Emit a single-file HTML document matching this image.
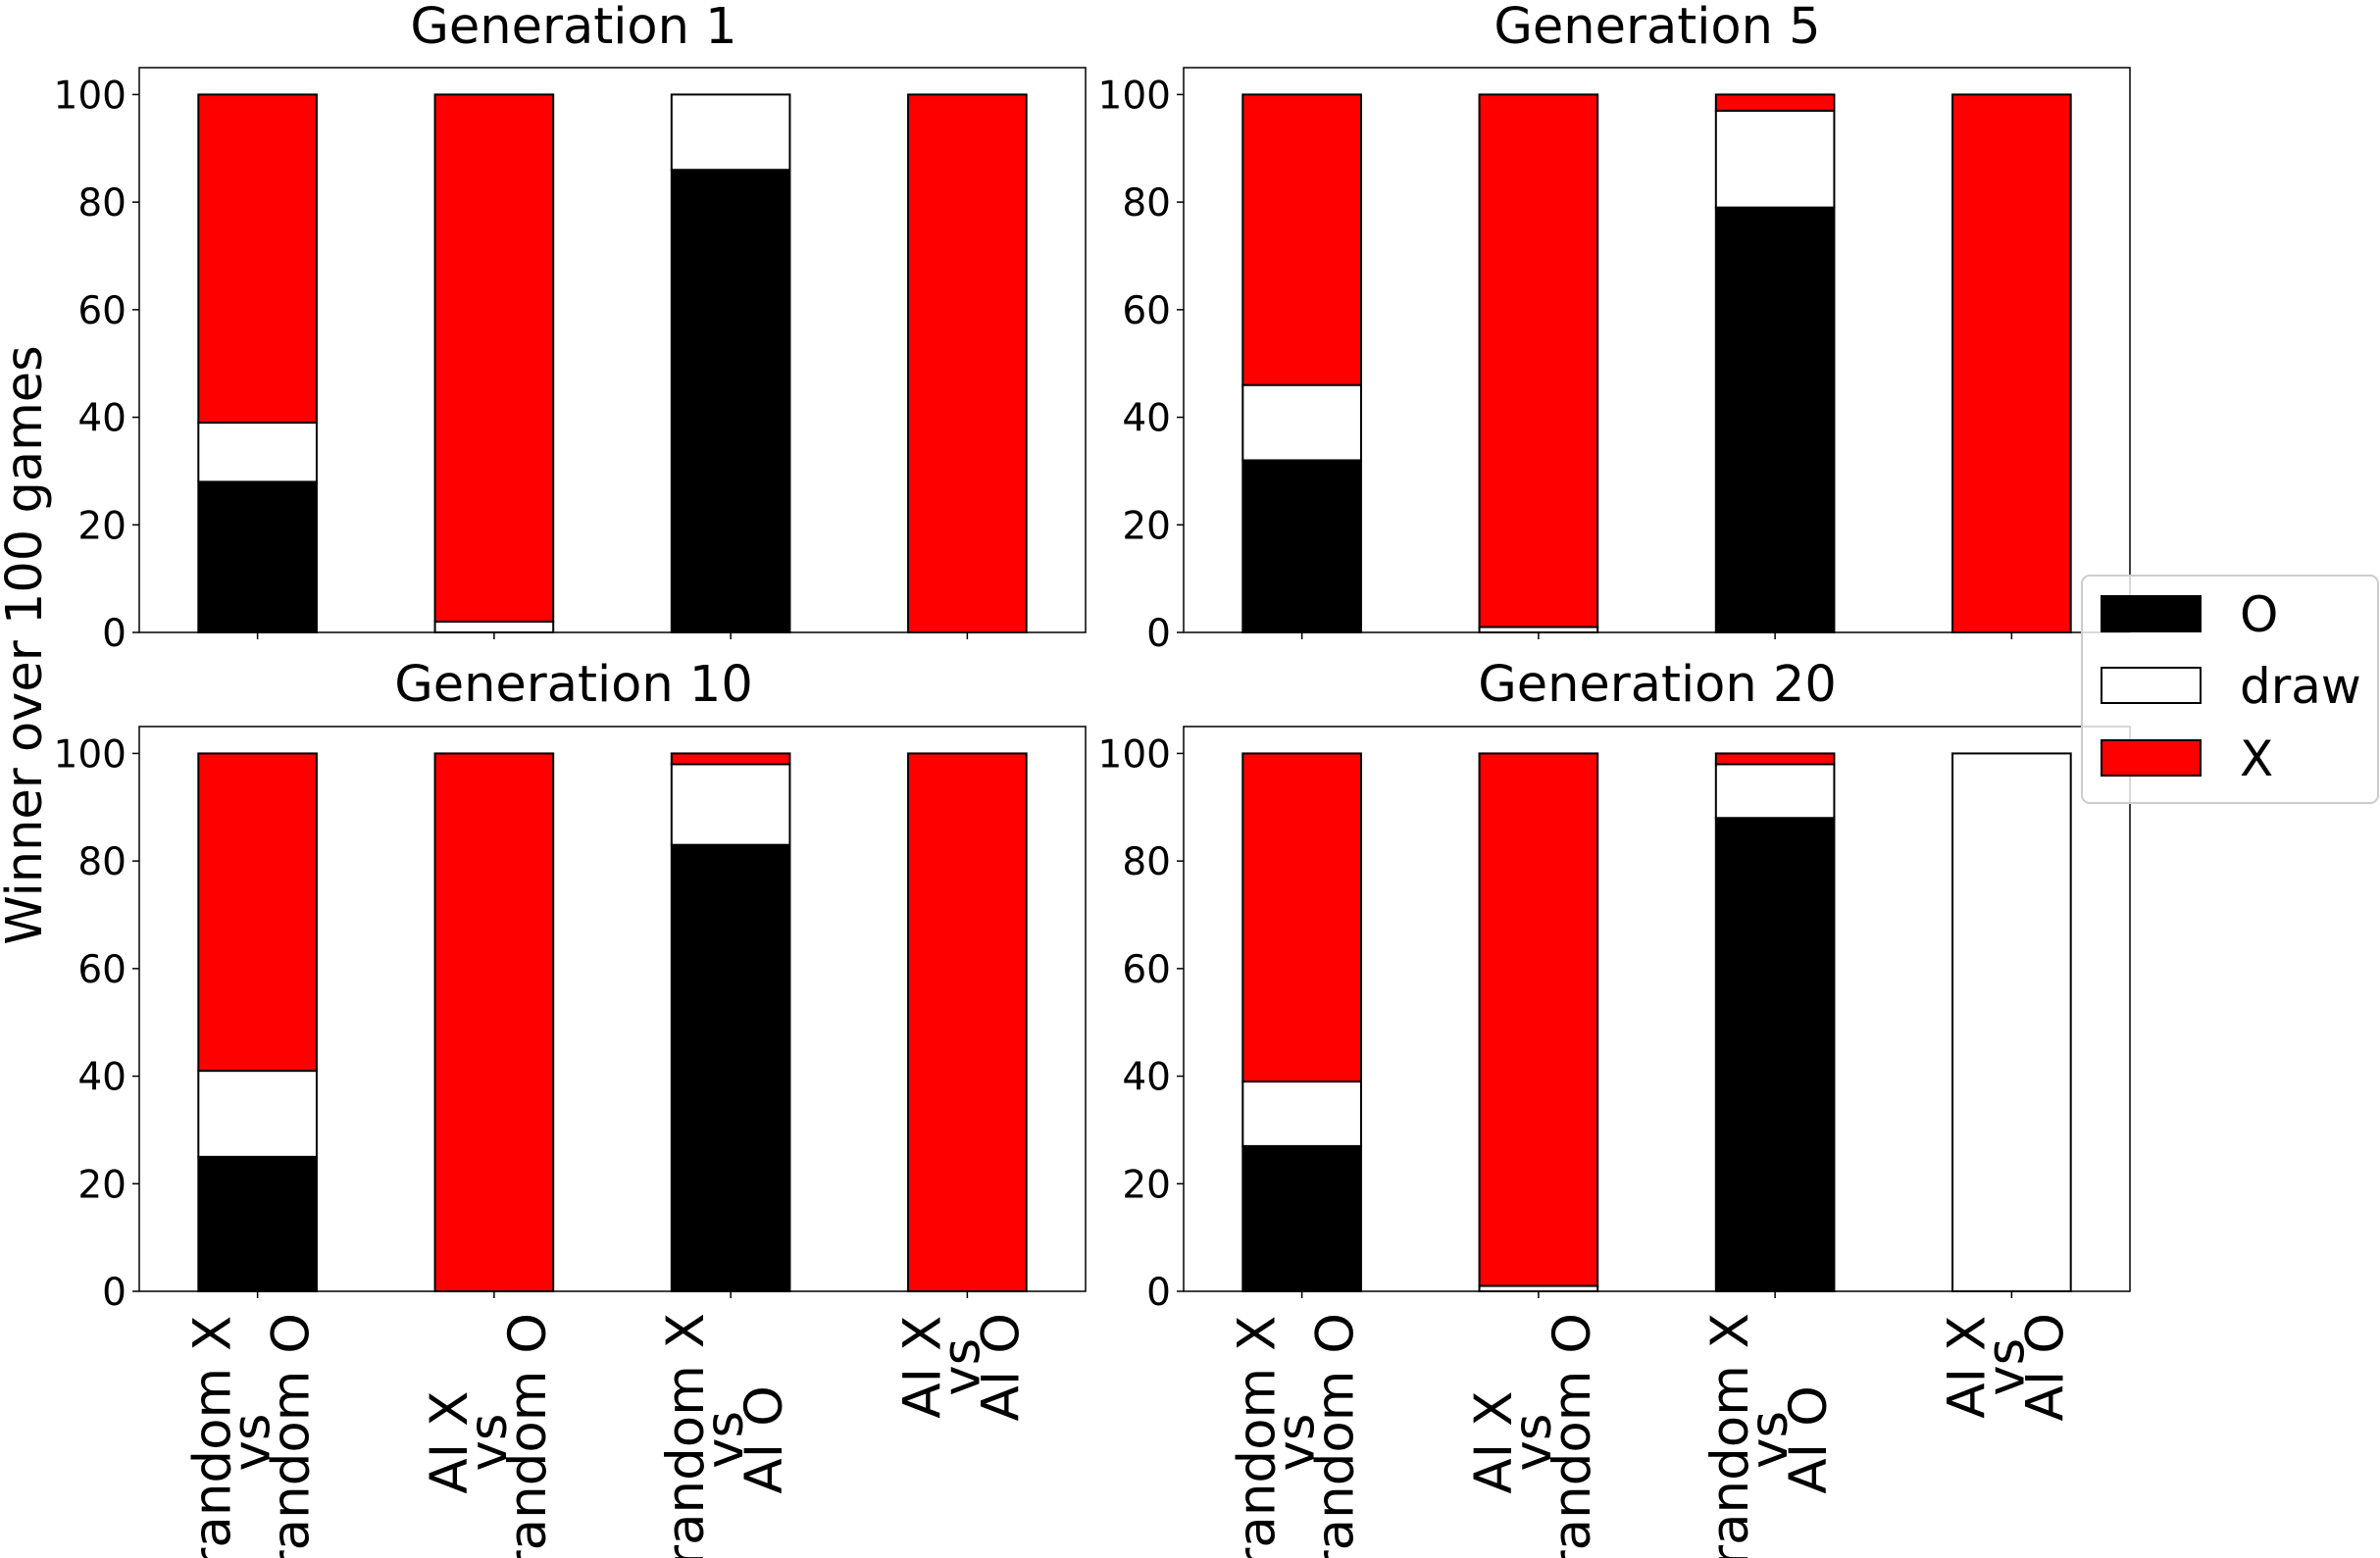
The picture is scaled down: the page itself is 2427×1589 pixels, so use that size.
<!DOCTYPE html>
<html><head><meta charset="utf-8"><style>
html,body{margin:0;padding:0;background:#fff;}
svg{display:block;font-family:"DejaVu Sans","Liberation Sans",sans-serif;}
</style></head><body>
<svg id="chart" width="2427" height="1589" viewBox="0 0 2427 1589" xmlns="http://www.w3.org/2000/svg"></svg>
<script>
const categories = ["random X\nvs\nrandom O", "AI X\nvs\nrandom O", "random X\nvs\nAI O", "AI X\nvs\nAI O"];
const panelTitles = ["Generation 1", "Generation 5", "Generation 10", "Generation 20"];
const oWins = [[28,0,86,0],[32,0,79,0],[25,0,83,0],[27,0,88,0]];
const draws = [[11,2,14,0],[14,1,18,0],[16,0,15,0],[12,1,10,100]];
const xWins = [[61,98,0,100],[54,99,3,100],[59,100,2,100],[61,99,2,0]];
const yTicks = [0,20,40,60,80,100];
const seriesNames = ["O","draw","X"];
const seriesColors = ["#000000","#ffffff","#ff0000"];

const NS = "http://www.w3.org/2000/svg";
const svg = document.getElementById('chart');
function mk(tag, attrs, parent){const e=document.createElementNS(NS,tag);for(const k in attrs)e.setAttribute(k,attrs[k]);(parent||svg).appendChild(e);return e;}

const panels = [
  {x0:142,x1:1107,y0:69,y1:645,tx:585,ty:44,labels:false},
  {x0:1207,x1:2172,y0:69,y1:645,tx:1690,ty:44,labels:false},
  {x0:142,x1:1107,y0:741,y1:1317,tx:585,ty:715,labels:true},
  {x0:1207,x1:2172,y0:741,y1:1317,tx:1690,ty:715,labels:true}
];
const yMax = 105;

panels.forEach((p,pi)=>{
  const g = mk('g',{});
  
  
  const xs = i => p.x0 + (i+0.5)*(p.x1-p.x0)/categories.length;
  const ys = v => p.y1 - v*(p.y1-p.y0)/yMax;
  const bw = 0.5*(p.x1-p.x0)/categories.length;
  const t = mk('text',{x:p.tx,y:p.ty,'text-anchor':'middle','font-size':51,fill:'#000'},g);
  t.textContent = panelTitles[pi];
  
  
  categories.forEach((c,i)=>{
    const vals=[oWins[pi][i],draws[pi][i],xWins[pi][i]];
    let base=0;
    vals.forEach((v,si)=>{
      const r=mk('rect',{x:xs(i)-bw/2,y:ys(base+v),width:bw,height:Math.max(0,ys(base)-ys(base+v)),fill:seriesColors[si],stroke:'#000','stroke-width':2},g);
      
      
      base+=v;
    });
    mk('line',{x1:xs(i),x2:xs(i),y1:p.y1,y2:p.y1+7,stroke:'#000','stroke-width':1.5},g);
    if(p.labels){
      const lines=c.split('\n');
      const lab=mk('g',{},g);
      
      
      const els=lines.map((ln,li)=>{
        const e=mk('text',{'font-size':53,'text-anchor':'middle',fill:'#000'},lab);
        e.textContent=ln;return e;});
      const L=Math.max(...els.map(e=>e.getComputedTextLength()));
      const cy=p.y1+22+L/2;
      els.forEach((e,li)=>{
        const bx=xs(i)-28+li*40;
        e.setAttribute('transform','translate('+bx+','+cy+') rotate(-90)');
      });
    }
  });
  yTicks.forEach(v=>{
    mk('line',{x1:p.x0-7,x2:p.x0,y1:ys(v),y2:ys(v),stroke:'#000','stroke-width':1.5},g);
    const tl=mk('text',{x:p.x0-13,y:ys(v)+14,'text-anchor':'end','font-size':39,fill:'#000'},g);
    tl.textContent=v;
    
    
  });
  const fr=mk('rect',{x:p.x0,y:p.y0,width:p.x1-p.x0,height:p.y1-p.y0,fill:'none',stroke:'#000','stroke-width':1.5},g);
  
  
});

const yl=mk('text',{transform:'translate(42,658) rotate(-90)','text-anchor':'middle','font-size':51,fill:'#000'});
yl.textContent='Winner over 100 games';



const lg=mk('g',{});


mk('rect',{x:2123,y:587,width:302,height:232,rx:8,fill:'#fff','fill-opacity':0.8,stroke:'#ccc','stroke-width':2},lg);
const lgY=[608,681,755];
seriesNames.forEach((n,si)=>{
  const e=mk('g',{},lg);
  
  
  mk('rect',{x:2143,y:lgY[si],width:101,height:36,fill:seriesColors[si],stroke:'#000','stroke-width':2},e);
  const t=mk('text',{x:2284,y:lgY[si]+36,'font-size':50,fill:'#000'},e);
  t.textContent=n;
});
</script>
</body></html>
